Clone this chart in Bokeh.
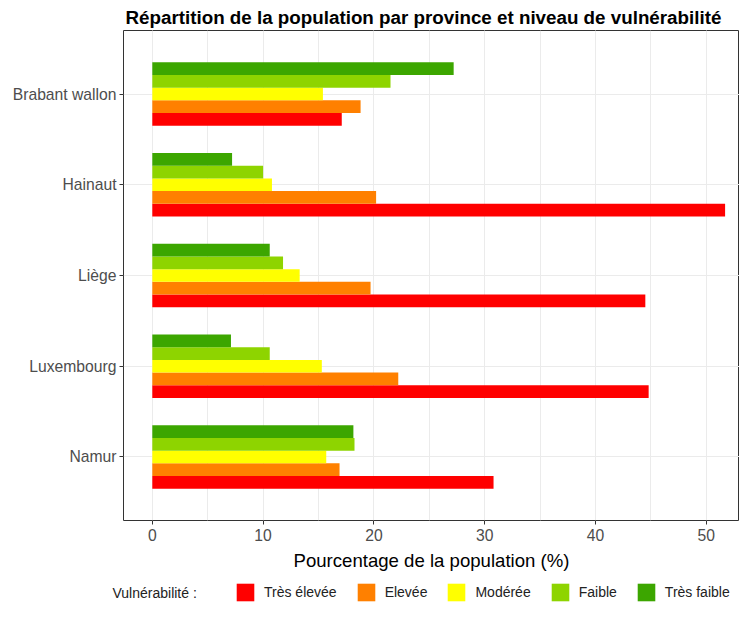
from bokeh.plotting import figure
from bokeh.layouts import column
from bokeh.models import (ColumnDataSource, FactorRange, Range1d, Legend, LegendItem,
                          SingleIntervalTicker, Label)
from bokeh.transform import dodge
from bokeh.embed import file_html
from bokeh.resources import INLINE

provinces = ["Brabant wallon", "Hainaut", "Liège", "Luxembourg", "Namur"]
levels = ["Très élevée", "Elevée", "Modérée", "Faible", "Très faible"]
tres_elevee = [17.1, 51.7, 44.5, 44.8, 30.8]
elevee = [18.8, 20.2, 19.7, 22.2, 16.9]
moderee = [15.4, 10.8, 13.3, 15.3, 15.7]
faible = [21.5, 10.0, 11.8, 10.6, 18.25]
tres_faible = [27.2, 7.2, 10.6, 7.1, 18.15]
colors = ["#FF0000", "#FF8000", "#FFFF00", "#8ED400", "#3CA600"]
keys = ["tres_elevee", "elevee", "moderee", "faible", "tres_faible"]
offsets = [-0.28, -0.14, 0.0, 0.14, 0.28]

src = ColumnDataSource(dict(province=provinces, tres_elevee=tres_elevee, elevee=elevee,
                            moderee=moderee, faible=faible, tres_faible=tres_faible))

FONT = "Liberation Sans"
W = 739

p = figure(width=W, height=578,
           y_range=FactorRange(factors=provinces[::-1], range_padding=0.2,
                               range_padding_units="absolute"),
           x_range=Range1d(-2.6, 53.0),
           output_backend="svg", toolbar_location=None,
           min_border_left=123, min_border_right=0, min_border_top=30, min_border_bottom=58,
           title="Répartition de la population par province et niveau de vulnérabilité")
p.frame_align = False

p.title.text_font = FONT
p.title.text_font_style = "bold"
p.title.text_font_size = "18.8px"
p.title.align = "left"
p.title.offset = 2
p.title.standoff = 5
p.title.text_color = "#000000"

for k, c, off in zip(keys, colors, offsets):
    p.hbar(y=dodge("province", off, range=p.y_range), right=k, left=0, height=0.14,
           source=src, fill_color=c, line_color=None)

p.outline_line_color = "#333333"
p.outline_line_width = 1
p.background_fill_color = "white"
p.border_fill_color = "white"

p.xaxis.ticker = SingleIntervalTicker(interval=10, num_minor_ticks=2)
p.xgrid.grid_line_color = "#EBEBEB"
p.xgrid.minor_grid_line_color = "#EBEBEB"
p.ygrid.grid_line_color = "#EBEBEB"

for ax in (p.xaxis[0], p.yaxis[0]):
    ax.axis_line_color = None
    ax.major_tick_line_color = "#333333"
    ax.major_tick_out = 4
    ax.major_tick_in = 0
    ax.minor_tick_line_color = None
    ax.major_label_text_font = FONT
    ax.major_label_text_font_size = "15.7px"
    ax.major_label_text_color = "#4D4D4D"

p.yaxis.major_label_standoff = 3
p.xaxis.major_label_standoff = 4
p.xaxis.axis_label = "Pourcentage de la population (%)"
p.xaxis.axis_label_text_font = FONT
p.xaxis.axis_label_text_font_size = "18.6px"
p.xaxis.axis_label_text_font_style = "normal"
p.xaxis.axis_label_text_color = "#000000"
p.xaxis.axis_label_standoff = 6

# legend strip (keys use the same data, drawn with zero height so only the legend shows)
LH = 28
q = figure(width=W, height=LH, x_range=Range1d(0, 60), y_range=FactorRange(factors=provinces),
           output_backend="svg", toolbar_location=None,
           x_axis_location=None, y_axis_location=None,
           min_border=0, min_border_left=0, min_border_right=0,
           min_border_top=0, min_border_bottom=0)
q.frame_align = False
q.outline_line_color = None
q.xgrid.visible = False
q.ygrid.visible = False
q.background_fill_color = "white"
q.border_fill_color = "white"

items = []
for lv, k, c in zip(levels, keys, colors):
    r = q.hbar(y="province", right=k, left=0, height=0, source=src,
               fill_color=c, line_color=None)
    items.append(LegendItem(label=lv, renderers=[r]))

legend = Legend(items=items, orientation="horizontal", location=(234, 3),
                padding=0, margin=0, spacing=18, glyph_width=22, glyph_height=22,
                label_standoff=8, label_text_font=FONT, label_text_font_size="14px",
                label_text_color="#222222", border_line_alpha=0, background_fill_alpha=0)
q.add_layout(legend)

q.add_layout(Label(x=112, y=14, x_units="screen", y_units="screen",
                   text="Vulnérabilité :", text_font=FONT,
                   text_font_size="14px", text_color="#222222", text_baseline="middle"))

open("out.html", "w").write(file_html(column(p, q, spacing=0), INLINE))
